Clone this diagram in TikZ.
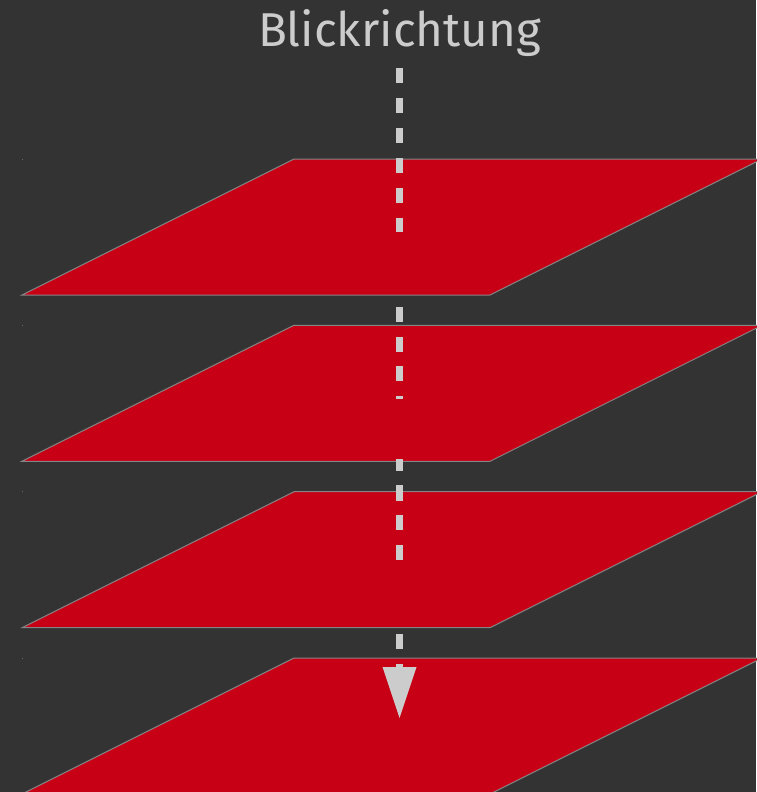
\documentclass[tikz,border=0pt]{standalone}
\usepackage{fontspec}
\setmainfont{Fira Sans}
\usetikzlibrary{arrows.meta}
\definecolor{bg}{HTML}{333333}
\definecolor{planered}{HTML}{C80016}
\definecolor{edgegray}{HTML}{858585}
\definecolor{lightgray}{HTML}{CCCCCC}
\tikzset{
  plane/.style={fill=planered, draw=edgegray, line width=1pt, line join=miter},
  speck/.style={fill=edgegray!70!bg},
  viewline/.style={draw=lightgray, line width=7.5pt,
    dash pattern=on 15pt off 15pt on 15pt off 15pt on 15pt off 15pt on 15pt off 15pt on 15pt off 15pt on 14pt off 75pt on 15pt off 15pt on 15pt off 14pt on 15pt off 15pt on 3pt off 60pt on 12pt off 14pt on 16pt off 14pt on 15pt off 15pt on 15pt off 74pt on 15pt off 15pt on 30pt off 200pt,
    -{Triangle[width=34pt,length=51pt,line width=0pt]}},
  title/.style={text=lightgray, font=\fontsize{47.5pt}{52pt}\selectfont, anchor=base, inner sep=0pt}
}
\begin{document}
\begin{tikzpicture}[x=1pt,y=-1pt]
\fill[bg] (0,0) rectangle (756,792);
\useasboundingbox (0,0) rectangle (756,792);
\foreach \t in {159,325.3,491.7,658}{
  \fill[speck] (21.5,\t-0.5) rectangle ++(1,1);
  \path[plane] (22,\t+136) -- (490,\t+136) -- (762,\t) -- (294,\t) -- cycle;
}
\node[title] (lbl) at (399.5,46.5) {Blickrichtung};
\coordinate (top) at (399.5,68);
\coordinate (tip) at (399.5,718);
\draw[viewline] (top) -- (tip);
\end{tikzpicture}
\end{document}
